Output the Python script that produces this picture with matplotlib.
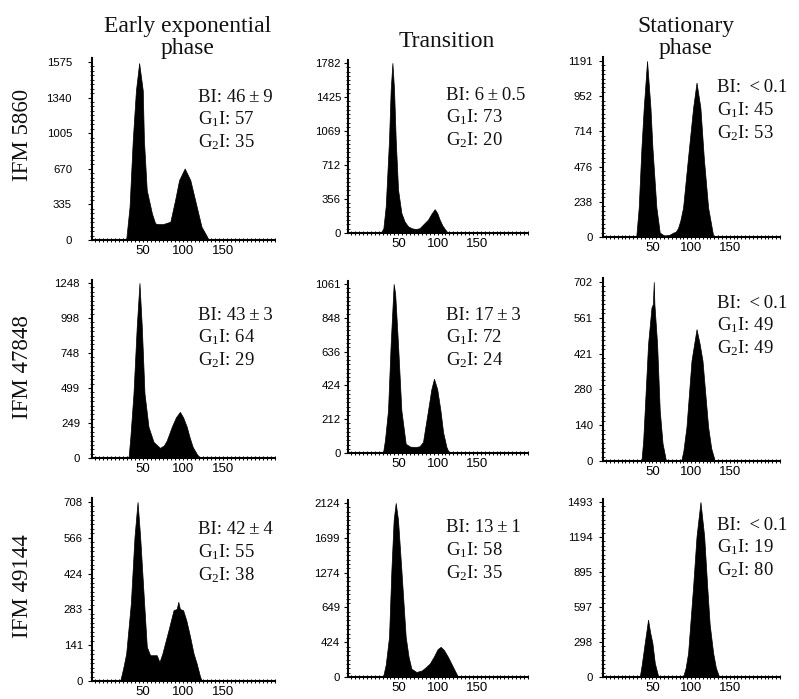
import numpy as np
import matplotlib.pyplot as plt
from matplotlib.ticker import MultipleLocator

plt.rcParams['mathtext.fontset'] = 'custom'
plt.rcParams['mathtext.rm'] = 'Liberation Serif'
plt.rcParams['mathtext.default'] = 'regular'

phases = ['Early exponential\nphase', 'Transition', 'Stationary\nphase']
strains = ['IFM 5860', 'IFM 47848', 'IFM 49144']

# histogram outlines: DNA channel -> cell count
ch_5860_early = [0, 27, 29, 33, 37, 41, 45, 49.5, 51, 54.5, 61, 65, 68, 75, 84, 90, 95, 102, 109, 115, 123, 130, 132, 210]
n_5860_early = [0, 0, 20, 313, 939, 1409, 1665, 1409, 939, 470, 250, 157, 150, 150, 172, 376, 564, 673, 564, 376, 125, 31, 0, 0]
ch_5860_trans = [0, 27.6, 31, 34, 38.2, 40.3, 42.5, 44.6, 46.7, 49.7, 53.9, 58, 62.4, 67, 72, 77, 81.4, 87.8, 92, 96.3, 99.5, 102.6, 106, 109.8, 113.2, 210]
n_5860_trans = [0, 0, 50, 280, 978, 1502, 1782, 1502, 978, 454, 210, 120, 70, 50, 42, 50, 87, 140, 200, 250, 210, 140, 80, 35, 0, 0]
ch_5860_stat = [0, 29, 32.2, 35.7, 38.7, 43, 47.4, 50, 55.1, 59.4, 65, 72, 77, 80, 83, 86, 89.6, 96, 102.6, 107, 112, 116.4, 122, 128.5, 131, 210]
n_5860_stat = [0, 0, 199, 600, 875, 1191, 875, 600, 199, 30, 10, 15, 30, 35, 60, 110, 199, 537, 875, 1045, 875, 537, 199, 10, 0, 0]

ch_47848_early = [0, 31.7, 34, 37.9, 42, 45.4, 48.3, 51.7, 56.7, 63, 71, 76, 79.6, 85.8, 91, 96, 100, 104.6, 108, 112, 117, 121, 210]
n_47848_early = [0, 0, 150, 460, 938, 1248, 938, 460, 222, 115, 72, 90, 126, 222, 290, 329, 290, 222, 150, 79, 30, 0, 0]
ch_47848_trans = [0, 30.5, 33, 36.9, 40.3, 44.1, 46, 49.6, 53.9, 59.4, 65, 72, 77, 81.4, 84, 87.8, 92, 95.4, 99.5, 103.6, 107, 111.2, 114.6, 210]
n_47848_trans = [0, 0, 80, 267, 685, 1061, 1000, 685, 267, 58, 40, 38, 42, 69, 150, 267, 400, 466, 400, 267, 130, 38, 0, 0]
ch_47848_stat = [0, 35.7, 38, 40, 44.3, 48.7, 50.5, 51.7, 52.5, 56, 59.4, 63, 67.2, 70, 80, 87.5, 90, 94, 100.5, 107, 111, 114.7, 122, 126, 130.7, 210]
n_47848_stat = [0, 0, 80, 199, 459, 602, 615, 702, 615, 459, 199, 70, 5, 3, 3, 5, 40, 134, 394, 517, 460, 394, 134, 50, 0, 0]

ch_49144_early = [0, 21.25, 25, 28.75, 34.6, 39.2, 43, 46.25, 51.25, 54.6, 58.75, 67, 70.4, 74, 81.7, 88, 92, 94, 96, 100, 104, 108.75, 113, 117, 121, 123.3, 210]
n_49144_early = [0, 0, 50, 108, 307, 571, 708, 571, 307, 135, 102, 102, 75, 108, 201, 280, 285, 313, 285, 280, 240, 175, 110, 69, 20, 0, 0]
ch_49144_trans = [0, 30.5, 34, 38.2, 41.2, 44.1, 46.7, 49.6, 53.9, 59.4, 63, 66.6, 73, 80, 85, 89.9, 95, 100, 103.9, 108, 113.2, 121.7, 126, 210]
n_49144_trans = [0, 0, 150, 490, 1307, 1920, 2124, 1920, 1307, 490, 250, 102, 61, 80, 120, 163, 245, 340, 368, 330, 245, 82, 0, 0]
ch_49144_stat = [0, 33.5, 36, 40, 44.3, 47, 49.9, 53, 57.2, 60, 89.6, 93, 96.1, 102.6, 107, 112.1, 116.9, 120.8, 124, 128.5, 132, 136.3, 210]
n_49144_stat = [0, 0, 100, 290, 489, 380, 290, 120, 11, 0, 0, 80, 205, 774, 1200, 1493, 1200, 774, 450, 205, 80, 0, 0]

# top of each y scale and the tick labels printed on it
ymax = [[1675, 1782, 1191], [1248, 1061, 702], [708, 2124, 1493]]
ylabels = [[['0', '335', '670', '1005', '1340', '1575'],
            ['0', '356', '712', '1069', '1425', '1782'],
            ['0', '238', '476', '714', '952', '1191']],
           [['0', '249', '499', '748', '998', '1248'],
            ['0', '212', '424', '636', '848', '1061'],
            ['0', '140', '280', '421', '561', '702']],
           [['0', '141', '283', '424', '566', '708'],
            ['0', '424', '649', '1274', '1699', '2124'],
            ['0', '298', '597', '895', '1194', '1493']]]

bi = [['46\u2009±\u20099', '6\u2009±\u20090.5', '\u2009<\u20090.1'],
      ['43\u2009±\u20093', '17\u2009±\u20093', '\u2009<\u20090.1'],
      ['42\u2009±\u20094', '13\u2009±\u20091', '\u2009<\u20090.1']]
g1 = [[57, 73, 45], [64, 72, 49], [55, 58, 19]]
g2 = [[35, 20, 53], [29, 24, 49], [38, 35, 80]]

chs = [[ch_5860_early, ch_5860_trans, ch_5860_stat],
       [ch_47848_early, ch_47848_trans, ch_47848_stat],
       [ch_49144_early, ch_49144_trans, ch_49144_stat]]
counts = [[n_5860_early, n_5860_trans, n_5860_stat],
          [n_47848_early, n_47848_trans, n_47848_stat],
          [n_49144_early, n_49144_trans, n_49144_stat]]

# layout in pixels
W, H = 799, 699
col_left = [92, 348, 603]
col_width = [183, 180, 177]
y_top = [[62, 63, 61], [283, 284, 282], [502, 503, 502]]
y_bot = [[240, 233, 237], [458, 453, 461], [681, 677, 677]]
label_gap = [[20, 7, 10], [12, 7, 10], [9, 8, 10]]
txt_x = [198, 446, 717]
txt_y = [[97, 95, 88], [315, 315, 303], [530, 528, 525]]

serif = ['Liberation Serif', 'DejaVu Serif']
sans = 'Liberation Sans'

fig = plt.figure(figsize=(W / 100, H / 100), dpi=100)

for i in range(3):
    for j in range(3):
        h = (y_bot[i][j] - y_top[i][j]) * 1.02
        ax = fig.add_axes([col_left[j] / W, 1 - y_bot[i][j] / H, col_width[j] / W, h / H])
        ax.fill_between(chs[i][j], counts[i][j], 0, color='black', lw=0.5)
        ax.set_xlim(-14, 215)
        ax.set_ylim(0, ymax[i][j] * 1.02)
        ax.set_yticks(np.linspace(0, ymax[i][j], 6))
        ax.set_yticklabels(ylabels[i][j], family=sans, fontsize=8.2)
        ax.set_xticks([50, 100, 150])
        ax.set_xticklabels(['50', '100', '150'], family=sans, fontsize=9.5)
        ax.xaxis.set_minor_locator(MultipleLocator(5))
        ax.yaxis.set_minor_locator(MultipleLocator(ymax[i][j] / 40))
        ax.tick_params(axis='y', which='major', direction='out', length=3, width=0.8,
                       pad=max(label_gap[i][j] * 0.72 - 3, 1))
        ax.tick_params(axis='y', which='minor', direction='inout', length=2.5, width=0.6)
        ax.tick_params(axis='x', which='both', direction='inout', length=2.5, width=0.7, pad=2.5)
        for s in ['top', 'right']:
            ax.spines[s].set_visible(False)
        for s in ['left', 'bottom']:
            ax.spines[s].set_linewidth(1.5)
        ax.patch.set_alpha(0)

        lines = ['BI: ' + bi[i][j], 'G$_1$I: %d' % g1[i][j], 'G$_2$I: %d' % g2[i][j]]
        for k, t in enumerate(lines):
            fig.text(txt_x[j] / W, 1 - (txt_y[i][j] + k * 22.5) / H, t,
                     ha='left', va='center', fontsize=13.5, family=serif, color='#111111')

# column titles
title_x = [188, 447, 686]
title_base = [[32, 54], [47], [32, 54]]
for j in range(3):
    for line, yb in zip(phases[j].split('\n'), title_base[j]):
        fig.text(title_x[j] / W, 1 - yb / H, line, ha='center', va='baseline',
                 fontsize=17, family=serif, color='#111111')

# strain labels
row_y = [135, 367, 586]
for i in range(3):
    fig.text(23 / W, 1 - row_y[i] / H, strains[i], rotation=90, ha='center', va='center',
             fontsize=16.5, family=serif, color='#111111')

fig.savefig('out.png', dpi=100)
